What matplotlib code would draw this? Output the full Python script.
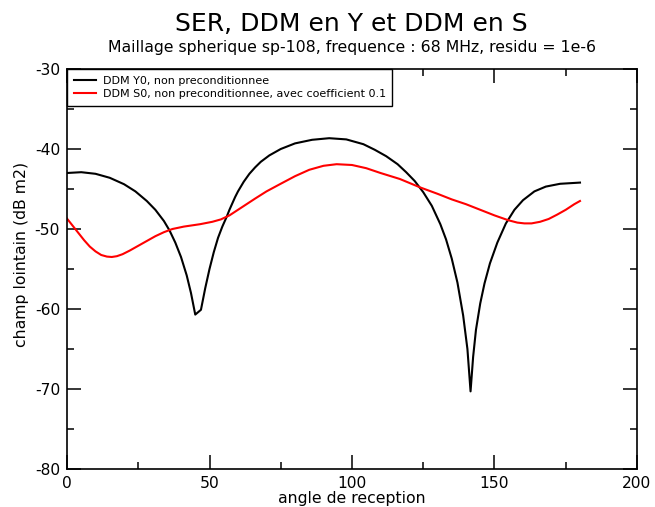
import matplotlib
matplotlib.use("Agg")
import matplotlib.pyplot as plt
from matplotlib.ticker import MultipleLocator

plt.rcParams["axes.unicode_minus"] = False
plt.rcParams["font.family"] = "DejaVu Sans"

# DDM Y0 (noir)
angle_y0 = [0, 5, 10, 15, 20, 24, 28, 31, 34, 36, 38, 40, 42, 43.5, 45, 47,
            48.5, 50, 51.5, 53, 54.5, 56, 57, 58, 59, 60, 62, 64, 66, 68, 71,
            75, 80, 86, 92, 98, 104, 108, 112, 116, 119, 122, 125, 128, 131,
            133, 135, 137, 139, 140.5, 141.6, 142.5, 143.5, 145, 146.5, 148.4,
            151, 154, 157, 160, 164, 168, 173, 180]
ser_y0 = [-43.0, -42.9, -43.1, -43.6, -44.4, -45.3, -46.5, -47.6, -49.0, -50.2,
          -51.7, -53.5, -55.8, -58.0, -60.7, -60.1, -57.4, -55.0, -52.9, -51.1,
          -49.7, -48.5, -47.6, -46.8, -46.0, -45.3, -44.1, -43.1, -42.3, -41.6,
          -40.8, -40.0, -39.3, -38.85, -38.65, -38.8, -39.4, -40.1, -40.9,
          -41.9, -42.9, -44.0, -45.4, -47.1, -49.4, -51.3, -53.7, -56.7, -60.8,
          -65.0, -70.3, -66.0, -62.6, -59.3, -56.8, -54.3, -51.7, -49.3, -47.6,
          -46.4, -45.3, -44.7, -44.35, -44.2]

# DDM S0 (rouge)
angle_s0 = [0, 2, 4, 6, 8, 10, 12, 14, 15.7, 17.5, 19.5, 22, 25, 28, 31, 34,
            37, 41, 46.7, 51, 54, 57, 60, 63, 66, 70, 74.7, 80, 85, 90, 94.6,
            100, 105, 110, 116.8, 123.9, 130, 135, 140, 145, 150, 154.8, 158,
            160.5, 163, 166, 169, 172, 175, 178, 180]
ser_s0 = [-48.7, -49.6, -50.5, -51.4, -52.2, -52.8, -53.25, -53.45, -53.5,
          -53.4, -53.15, -52.7, -52.1, -51.5, -50.9, -50.4, -50.0, -49.7, -49.4,
          -49.1, -48.8, -48.3, -47.6, -46.9, -46.2, -45.3, -44.4, -43.4, -42.6,
          -42.1, -41.9, -42.0, -42.4, -43.0, -43.75, -44.8, -45.6, -46.3, -46.9,
          -47.6, -48.3, -48.9, -49.2, -49.3, -49.3, -49.1, -48.75, -48.2, -47.6,
          -46.9, -46.5]

fig = plt.figure(figsize=(6.55, 5.07), dpi=100)
ax = fig.add_axes([0.1023, 0.075, 0.8702, 0.7889])

ax.plot(angle_y0, ser_y0, color="black", lw=1.5,
        label="DDM Y0, non preconditionnee")
ax.plot(angle_s0, ser_s0, color="red", lw=1.5,
        label="DDM S0, non preconditionnee, avec coefficient 0.1")

ax.set_xlim(0, 200)
ax.set_ylim(-80, -30)
ax.xaxis.set_major_locator(MultipleLocator(50))
ax.xaxis.set_minor_locator(MultipleLocator(25))
ax.yaxis.set_major_locator(MultipleLocator(10))
ax.yaxis.set_minor_locator(MultipleLocator(5))
ax.tick_params(which="both", direction="in", top=True, right=True,
               labelsize=11.2, width=1.1)
ax.tick_params(which="major", length=10, pad=5)
ax.tick_params(which="minor", length=5)
for s in ax.spines.values():
    s.set_linewidth(1.2)

ax.set_xlabel("angle de reception", fontsize=11.3, labelpad=0)
ax.set_ylabel("champ lointain (dB m2)", fontsize=11.3)
ax.yaxis.set_label_coords(-0.067, 0.5375)

leg = ax.legend(loc="upper left", bbox_to_anchor=(0, 1), borderaxespad=0,
                fontsize=8, fancybox=False, edgecolor="black", framealpha=1,
                handlelength=2.0, handletextpad=0.6, borderpad=0.6,
                labelspacing=0.3)
leg.get_frame().set_linewidth(1.0)

fig.text(0.537, 0.938, "SER, DDM en Y et DDM en S", ha="center",
         va="baseline", fontsize=18)
fig.text(0.537, 0.897, "Maillage spherique sp-108, frequence : 68 MHz, residu = 1e-6",
         ha="center", va="baseline", fontsize=11.3)

fig.savefig("out.png", dpi=100)
